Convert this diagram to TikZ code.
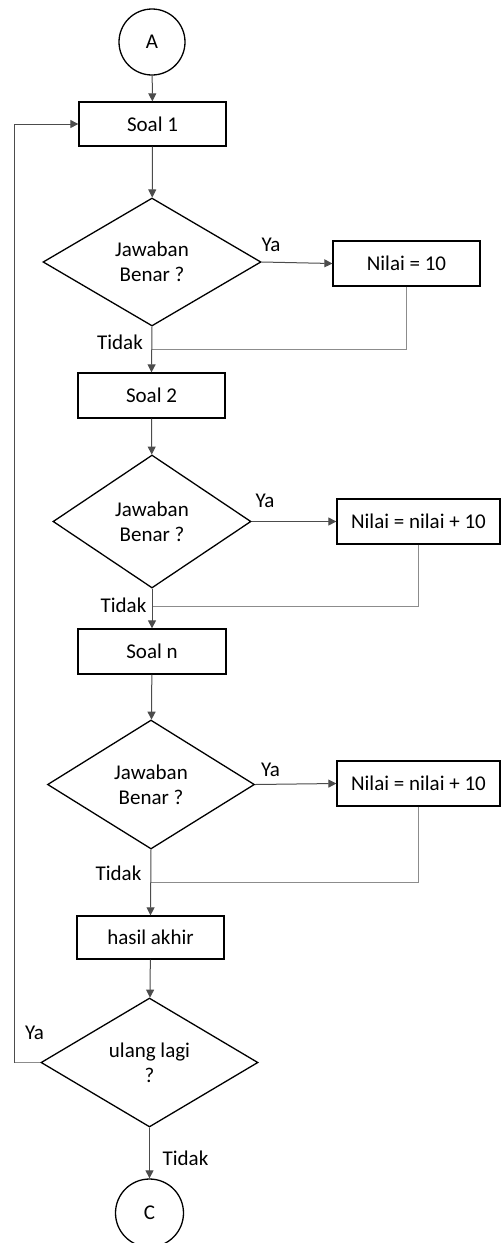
\documentclass[tikz,border=0pt]{standalone}
\usepackage{fontspec}
\setmainfont{Carlito}
\usetikzlibrary{shapes.geometric,arrows.meta}
\begin{document}
\begin{tikzpicture}[x=1pt,y=-1pt,
  every node/.style={font=\fontsize{21}{25}\selectfont},
  procbox/.style={draw=black,line width=1.3pt,rectangle,inner sep=0pt},
  decis/.style={draw=black,line width=1.3pt,diamond,inner sep=0pt,align=center},
  conn/.style={draw=black,line width=1.3pt,circle,inner sep=0pt,minimum size=66pt},
  arr/.style={draw=black!70,line width=1pt,-{Triangle[length=8pt,width=8pt]}},
  joinline/.style={draw=black!45,line width=1pt},
  lbl/.style={inner sep=0pt}]
\useasboundingbox (0,0) rectangle (501,1243);
% nodes
\node[conn] (A) at (152,42) {A};
\node[procbox,minimum width=147pt,minimum height=44pt] (s1) at (152.5,124) {Soal 1};
\node[decis,minimum width=218pt,minimum height=128pt] (d1) at (152,262) {Jawaban\\Benar ?};
\node[procbox,minimum width=147pt,minimum height=45pt] (n1) at (406.5,263.5) {Nilai = 10};
\node[procbox,minimum width=147pt,minimum height=45pt] (s2) at (151.5,395.5) {Soal 2};
\node[decis,minimum width=198pt,minimum height=133pt] (d2) at (152,521.5) {Jawaban\\Benar ?};
\node[procbox,minimum width=163pt,minimum height=45pt] (n2) at (418.5,521.5) {Nilai = nilai + 10};
\node[procbox,minimum width=148pt,minimum height=45pt] (sn) at (152,651.5) {Soal n};
\node[decis,minimum width=207pt,minimum height=129pt] (d3) at (151,784.5) {Jawaban\\Benar ?};
\node[procbox,minimum width=163pt,minimum height=45pt] (n3) at (418.5,783.5) {Nilai = nilai + 10};
\node[procbox,minimum width=147pt,minimum height=43pt] (ha) at (150.5,937.5) {hasil akhir};
\node[decis,minimum width=217pt,minimum height=129pt] (d4) at (149.5,1062.5) {ulang lagi\\?};
\node[conn,minimum size=68pt] (C) at (149.5,1213) {C};
% labels
\node[lbl] (ya1) at (271,245) {Ya};
\node[lbl] (t1) at (120,342) {Tidak};
\node[lbl] (ya2) at (265,501) {Ya};
\node[lbl] (t2) at (123.5,605) {Tidak};
\node[lbl] (ya3) at (270.5,770) {Ya};
\node[lbl] (t3) at (118.5,873) {Tidak};
\node[lbl] (ya4) at (34.5,1033) {Ya};
\node[lbl] (t4) at (185.5,1158) {Tidak};
% coordinates
\coordinate (j1) at (152,349);
\coordinate (j2) at (152,606);
\coordinate (j3) at (151,882);
\coordinate (loop) at (14,1062.5);
% connectors
\draw[arr] (A) -- (s1);
\draw[arr] (s1) -- (d1);
\draw[arr] (d1.east) -- (n1.west);
\draw[joinline] (n1.south) |- (j1);
\draw[arr] (d1.south) -- (s2.north);
\draw[arr] (s2) -- (d2);
\draw[arr] (d2.east) -- (n2.west);
\draw[joinline] (n2.south) |- (j2);
\draw[arr] (d2.south) -- (sn.north);
\draw[arr] (sn) -- (d3);
\draw[arr] (d3.east) -- (n3.west);
\draw[joinline] (n3.south) |- (j3);
\draw[arr] (d3.south) -- (ha.north);
\draw[arr] (ha) -- (d4);
\draw[joinline] (d4.west) -- (loop);
\draw[arr] (loop) |- (s1.west);
\draw[arr] (d4.south) -- (C.north);
\end{tikzpicture}
\end{document}
